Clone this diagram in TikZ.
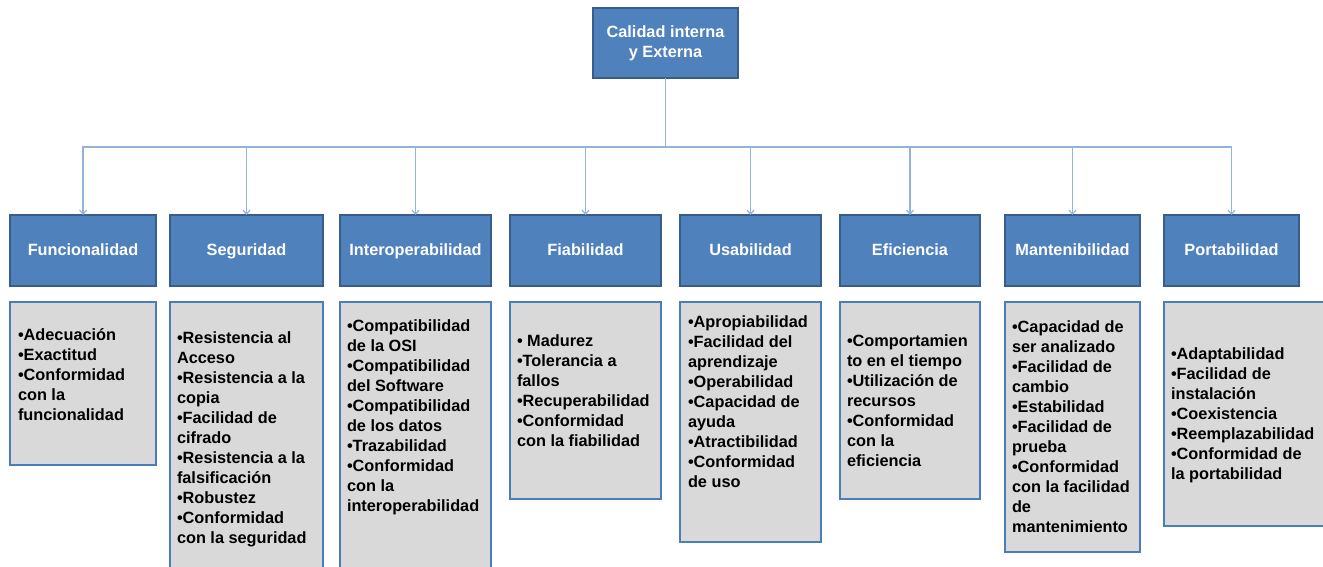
\documentclass[tikz,border=0pt]{standalone}
\usepackage{fontspec}
\setmainfont{Liberation Sans}
\usetikzlibrary{arrows.meta}

\definecolor{hdrfill}{HTML}{4F81BD}
\definecolor{hdrline}{HTML}{385D8A}
\definecolor{listfill}{HTML}{D9D9D9}
\definecolor{listline}{HTML}{4A7EBB}
\definecolor{wire}{HTML}{95B3D7}

\tikzset{
  boxbase/.style={draw=hdrline, fill=hdrfill, line width=1.3pt, anchor=north west,
    inner sep=0pt, outer sep=0pt, text=white,
    font=\fontsize{16.3}{20}\selectfont\bfseries, align=center},
  hdr/.style={boxbase, text height=14pt, text depth=3.4pt},
  listbox/.style={draw=listline, fill=listfill, line width=1.3pt, anchor=north west,
    inner sep=0pt, outer sep=0pt},
  listtxt/.style={anchor=north west, inner sep=0pt, outer sep=0pt, align=left,
    font=\fontsize{16.3}{20}\selectfont\bfseries},
  wirestyle/.style={draw=wire, line width=1.2pt},
  tip/.style={wirestyle, -{Straight Barb[length=4pt,width=7pt]}}
}
\newcommand{\lst}{\rule{0pt}{12.5pt}}

\begin{document}
\begin{tikzpicture}[x=1pt,y=-1pt]
\useasboundingbox (0,0) rectangle (1323,567);
\clip (0,0) rectangle (1323,567);

% root
\node[boxbase, minimum width=145pt, minimum height=70pt] (top) at (593,8) {Calidad interna\\y Externa};

% characteristics
\node[hdr, minimum width=146pt, minimum height=71pt] (h1) at (10,215) {Funcionalidad};
\node[hdr, minimum width=153pt, minimum height=71pt] (h2) at (170,215) {Seguridad};
\node[hdr, minimum width=151pt, minimum height=71pt] (h3) at (340,215) {Interoperabilidad};
\node[hdr, minimum width=151pt, minimum height=71pt] (h4) at (510,215) {Fiabilidad};
\node[hdr, minimum width=141pt, minimum height=71pt] (h5) at (680,215) {Usabilidad};
\node[hdr, minimum width=140pt, minimum height=71pt] (h6) at (840,215) {Eficiencia};
\node[hdr, minimum width=135pt, minimum height=71pt] (h7) at (1005,215) {Mantenibilidad};
\node[hdr, minimum width=135pt, minimum height=71pt] (h8) at (1164,215) {Portabilidad};

% connectors
\coordinate (bus) at (665.5,147);
\draw[wirestyle] (top.south) -- (bus);
\foreach \h in {h1,h2,h3,h4,h5,h6,h7,h8}
  \draw[tip] (bus) -| (\h.north);

% sub-characteristic boxes
\node[listbox, minimum width=146pt, minimum height=163pt] (b1) at (10,302) {};
\node[listbox, minimum width=153pt, minimum height=300pt] (b2) at (170,302) {};
\node[listbox, minimum width=151pt, minimum height=300pt] (b3) at (340,302) {};
\node[listbox, minimum width=151pt, minimum height=197pt] (b4) at (510,302) {};
\node[listbox, minimum width=141pt, minimum height=240pt] (b5) at (680,302) {};
\node[listbox, minimum width=140pt, minimum height=197pt] (b6) at (840,302) {};
\node[listbox, minimum width=135pt, minimum height=250pt] (b7) at (1005,302) {};
\node[listbox, minimum width=170pt, minimum height=224pt] (b8) at (1164,302) {};

\node[listtxt] (t1) at (18,327.5) {\lst•Adecuación\\•Exactitud\\•Conformidad\\con la\\funcionalidad};
\node[listtxt] (t2) at (177,330.5) {\lst•Resistencia al\\Acceso\\•Resistencia a la\\copia\\•Facilidad de\\cifrado\\•Resistencia a la\\falsificación\\•Robustez\\•Conformidad\\con la seguridad};
\node[listtxt] (t3) at (347,318.5) {\lst•Compatibilidad\\de la OSI\\•Compatibilidad\\del Software\\•Compatibilidad\\de los datos\\•Trazabilidad\\•Conformidad\\con la\\interoperabilidad};
\node[listtxt] (t4) at (517,333.5) {\lst• Madurez\\•Tolerancia a\\fallos\\•Recuperabilidad\\•Conformidad\\con la fiabilidad};
\node[listtxt] (t5) at (688,314.5) {\lst•Apropiabilidad\\•Facilidad del\\aprendizaje\\•Operabilidad\\•Capacidad de\\ayuda\\•Atractibilidad\\•Conformidad\\de uso};
\node[listtxt] (t6) at (847,333.5) {\lst•Comportamien\\to en el tiempo\\•Utilización de\\recursos\\•Conformidad\\con la\\eficiencia};
\node[listtxt] (t7) at (1012,319.5) {\lst•Capacidad de\\ser analizado\\•Facilidad de\\cambio\\•Estabilidad\\•Facilidad de\\prueba\\•Conformidad\\con la facilidad\\de\\mantenimiento};
\node[listtxt] (t8) at (1171,346.5) {\lst•Adaptabilidad\\•Facilidad de\\instalación\\•Coexistencia\\•Reemplazabilidad\\•Conformidad de\\la portabilidad};
\end{tikzpicture}
\end{document}
